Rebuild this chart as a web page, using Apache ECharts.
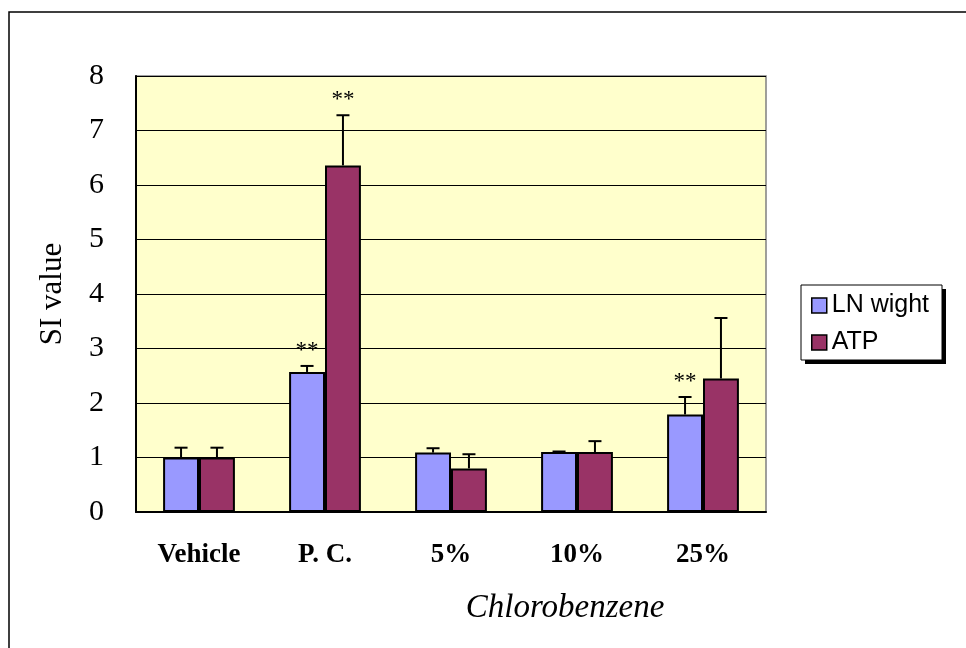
<!DOCTYPE html>
<html>
<head>
<meta charset="utf-8">
<script src="https://cdn.jsdelivr.net/npm/echarts@6/dist/echarts.min.js"></script>
<style>html,body{margin:0;padding:0;background:#fff;}#c{width:966px;height:648px;}</style>
</head>
<body>
<div id="c"></div>
<script>
var categories = ['Vehicle', 'P. C.', '5%', '10%', '25%'];
var lnWight = [1.00, 2.57, 1.09, 1.10, 1.79];
var lnErr = [0.18, 0.11, 0.08, 0.01, 0.32];
var atp = [1.00, 6.36, 0.80, 1.10, 2.45];
var atpErr = [0.18, 0.92, 0.26, 0.20, 1.11];
var lnStars = ['', '**', '', '', '**'];
var atpStars = ['', '**', '', '', ''];
var yTicks = [0, 1, 2, 3, 4, 5, 6, 7, 8];

var chart = echarts.init(document.getElementById('c'));
var serif = 'Liberation Serif';

function errSeries(name, vals, errs, stars, sign) {
  return {
    type: 'custom',
    name: name + ' err',
    z: 5,
    silent: true,
    data: vals.map(function (v, i) { return [i, v, errs[i]]; }),
    renderItem: function (params, api) {
      var idx = api.value(0);
      var v = api.value(1);
      var e = api.value(2);
      var star = stars[idx];
      var base = api.coord([idx, v]);
      var top = api.coord([idx, v + e]);
      var bw = api.size([1, 0])[0] * 0.285;
      var x = base[0] + sign * bw / 2;
      var cap = 6.5;
      var children = [
        { type: 'line', shape: { x1: x, y1: base[1], x2: x, y2: top[1] }, style: { stroke: '#000', lineWidth: 2 } },
        { type: 'line', shape: { x1: x - cap, y1: top[1], x2: x + cap, y2: top[1] }, style: { stroke: '#000', lineWidth: 2 } }
      ];
      if (star) {
        children.push({ type: 'text', style: { text: star, x: x, y: top[1] - 15, align: 'center', verticalAlign: 'middle', font: '23px ' + serif, fill: '#000' } });
      }
      return { type: 'group', children: children };
    }
  };
}

chart.setOption({
  animation: false,
  grid: { left: 136, right: 200, top: 76, bottom: 136, show: true, backgroundColor: '#FFFFCC', borderColor: '#808080', borderWidth: 1.5 },
  legend: {
    orient: 'vertical', left: 811, top: 293, padding: 0, itemGap: 12, z: 10,
    itemWidth: 15, itemHeight: 15, icon: 'rect',
    textStyle: { fontFamily: 'Liberation Sans', fontSize: 25, color: '#000' },
    data: [
      { name: 'LN wight', itemStyle: { borderColor: '#000', borderWidth: 1.5 } },
      { name: 'ATP', itemStyle: { borderColor: '#000', borderWidth: 1.5 } }
    ]
  },
  graphic: [
    { type: 'rect', z: 0, shape: { x: 9, y: 12, width: 1000, height: 700 }, style: { fill: 'none', stroke: '#000', lineWidth: 1.5 } },
    { type: 'rect', z: 1, shape: { x: 805, y: 289, width: 141, height: 75 }, style: { fill: '#000' } },
    { type: 'rect', z: 2, shape: { x: 801, y: 285, width: 141, height: 75 }, style: { fill: '#fff', stroke: '#000', lineWidth: 1 } },
    { type: 'text', z: 3, style: { text: 'Chlorobenzene', x: 565, y: 608, align: 'center', verticalAlign: 'middle', font: 'italic 33px ' + serif, fill: '#000' } }
  ],
  xAxis: {
    type: 'category', data: categories,
    axisLine: { lineStyle: { color: '#000', width: 2 } },
    axisTick: { inside: true, length: 8, alignWithLabel: false, lineStyle: { color: '#000', width: 1.5 } },
    axisLabel: { fontFamily: serif, fontWeight: 'bold', fontSize: 27, color: '#000', margin: 30 },
    splitLine: { show: false }
  },
  yAxis: {
    type: 'value', min: 0, max: 8, interval: 1,
    name: 'SI value', nameLocation: 'middle', nameGap: 68, nameRotate: 90,
    nameTextStyle: { fontFamily: serif, fontSize: 31, color: '#000' },
    axisLine: { show: true, lineStyle: { color: '#000', width: 2 } },
    axisTick: { show: true, inside: true, length: 5, lineStyle: { color: '#000' } },
    axisLabel: { fontFamily: serif, fontSize: 30, color: '#000', margin: 32,
      formatter: function (v) { return yTicks.indexOf(v) >= 0 ? String(v) : ''; } },
    splitLine: { lineStyle: { color: '#000', width: 1 } }
  },
  series: [
    { type: 'bar', name: 'LN wight', data: lnWight, barGap: '0%', barCategoryGap: '43%',
      itemStyle: { color: '#9999FF', borderColor: '#000', borderWidth: 2 } },
    { type: 'bar', name: 'ATP', data: atp, barGap: '0%', barCategoryGap: '43%',
      itemStyle: { color: '#993366', borderColor: '#000', borderWidth: 2 } },
    errSeries('LN wight', lnWight, lnErr, lnStars, -1),
    errSeries('ATP', atp, atpErr, atpStars, 1)
  ]
});
</script>
</body>
</html>
